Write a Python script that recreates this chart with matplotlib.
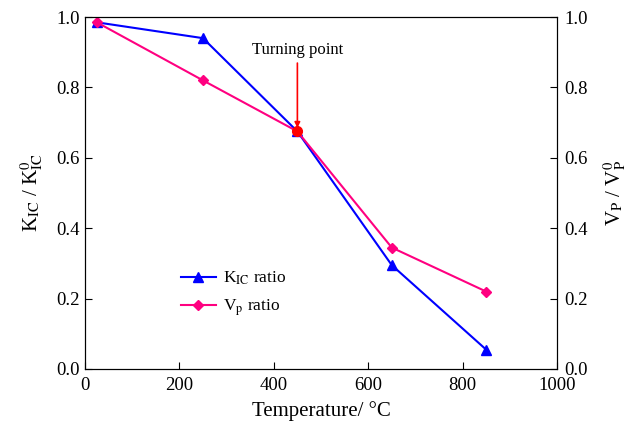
import numpy as np
import matplotlib
matplotlib.use("Agg")
import matplotlib.pyplot as plt

plt.rcParams['font.family'] = ['Liberation Serif', 'DejaVu Serif']
plt.rcParams['mathtext.fontset'] = 'stix'

# temperature (deg C) and normalised ratios
temp = [25, 250, 450, 650, 850]
kic_ratio = [0.985, 0.94, 0.675, 0.295, 0.055]
vp_ratio = [0.985, 0.82, 0.675, 0.345, 0.22]
turn_t, turn_v = 450, 0.675
yticks = [0.0, 0.2, 0.4, 0.6, 0.8, 1.0]
xticks = [0, 200, 400, 600, 800, 1000]

fig = plt.figure(figsize=(6.38, 4.23), dpi=100)
ax = fig.add_axes([0.1332, 0.1277, 0.7398, 0.832])

ax.plot(temp, kic_ratio, color='#0000ff', marker='^', ms=7, lw=1.5,
        label=r'K$_{\rm IC}$ ratio')
ax.plot(temp, vp_ratio, color='#ff0080', marker='D', ms=5.5, lw=1.5,
        label=r'V$_{\rm p}$ ratio')
ax.plot(turn_t, turn_v, 'o', color='red', ms=7)
ax.annotate('Turning point', xy=(turn_t, turn_v + 0.01), xytext=(turn_t, 0.885),
            ha='center', va='bottom', fontsize=12,
            arrowprops=dict(arrowstyle='-|>', color='red', lw=1.2,
                            mutation_scale=8, shrinkA=2, shrinkB=0))

ax.set_xlim(0, 1000)
ax.set_ylim(0, 1.0)
ax.set_xticks(xticks)
ax.set_yticks(yticks)
ax.set_yticklabels(['%.1f' % v for v in yticks])
ax.tick_params(direction='in', labelsize=13.5, length=5, top=False, right=False)
ax.tick_params(axis='x', pad=6)
ax.tick_params(axis='y', pad=4)
ax.set_xlabel('Temperature/ °C', fontsize=15, labelpad=5)
ax.set_ylabel(r'K$_{\rm IC}$ / K$_{\rm IC}^{0}$', fontsize=15, labelpad=8)

ax2 = ax.twinx()
ax2.set_ylim(0, 1.0)
ax2.set_yticks(yticks)
ax2.set_yticklabels(['%.1f' % v for v in yticks])
ax2.tick_params(direction='in', labelsize=13.5, length=5, pad=5)
ax2.set_ylabel(r'V$_{\rm P}$ / V$_{\rm P}^{0}$', fontsize=15, labelpad=10)

ax.legend(loc='lower left', bbox_to_anchor=(0.17, 0.10), frameon=False,
          fontsize=12.5, handlelength=2.0, handletextpad=0.4, labelspacing=0.6)

fig.savefig('out.png', dpi=100)
